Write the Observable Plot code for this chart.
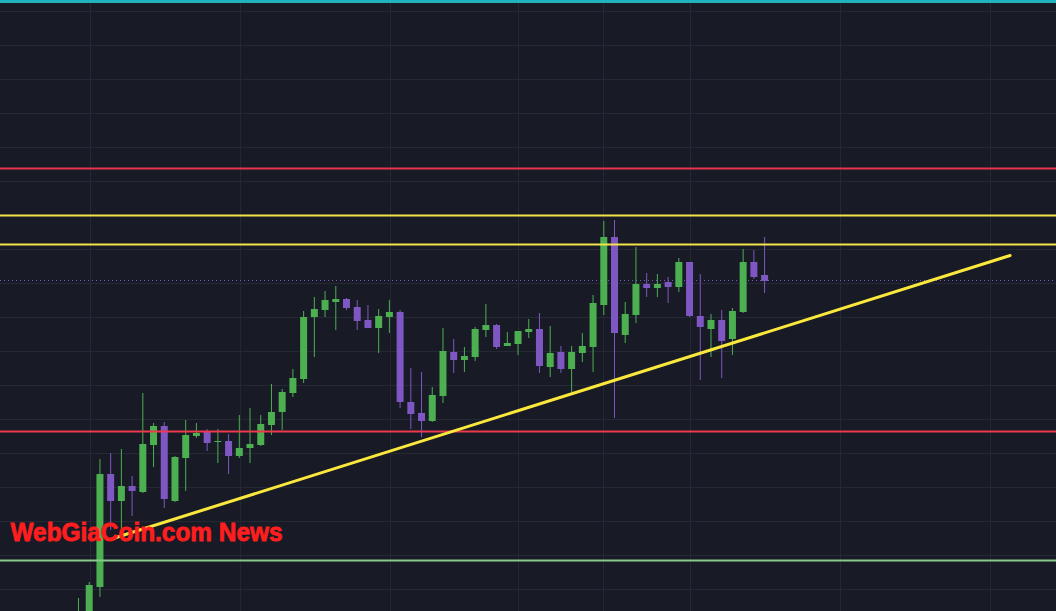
<!DOCTYPE html>
<html><head><meta charset="utf-8">
<script src="https://cdn.jsdelivr.net/npm/d3@7"></script>
<script src="https://cdn.jsdelivr.net/npm/@observablehq/plot@0.6"></script>
<style>
html,body{margin:0;padding:0;background:#181b26;overflow:hidden}
#chart{width:1056px;height:611px;overflow:hidden;position:relative}
</style>
</head><body><div id="chart"></div>
<script>
// Candle data (one entry per bar, left to right)
const opens  = [-19, -4, 24,137,110,125,119,166,185,110,153,175,179,169,170,155,163,166,186,199,218,232,294,301,309,312,304,291,283,294,299,209,198,190,215,259,251,254,281,286,265,267,279,282,244,259,242,258,264,306,374,276,296,327,323,329,324,349,295,282,291,272,299,349,336];
const closes = [ -1, 26,137,110,125,120,167,185,112,154,176,178,168,170,155,163,167,187,199,219,233,294,302,311,312,303,290,283,295,299,209,197,190,216,260,251,255,282,286,264,268,280,282,245,258,242,259,265,308,374,278,297,327,323,327,324,349,295,284,291,270,300,349,334,330];
const highs  = [ 13, 29,152,158,162,135,218,188,189,155,191,188,182,182,177,196,203,196,227,222,242,300,314,320,325,313,311,306,302,311,301,243,239,224,283,272,264,284,307,287,279,280,292,298,285,265,265,278,316,390,391,309,364,338,337,334,353,349,337,297,301,303,362,361,374];
const lows   = [-29, -9, 14, 81, 79, 95,118,144,103,109,120,173,160,148,137,153,148,165,176,181,214,228,254,294,281,301,281,283,258,278,203,182,174,189,208,238,239,250,274,262,265,256,273,238,234,238,219,249,239,296,193,268,288,314,314,308,319,294,231,254,233,256,298,332,318];

// Horizontal levels drawn on the chart
const levelPrices = [610, 443, 396, 367, 180, 51];
const levelColors = ["#1fb3bd", "#e8344f", "#f2e44a", "#f2e44a", "#ec3a4c", "#86c98a"];
const levelWidths = [3, 2, 2, 2, 2, 2];
const lastPrice = 331;

// Rising trendline (bar index, price)
const trendX = [3.2, 86.9];
const trendY = [73, 356];

// Grid ticks
const timeGrid = [1.12, 15.11, 29.10, 41.04, 48.97, 57.09, 71.08, 85.07];
const priceGrid = [22, 56, 90, 124, 158, 192, 226, 260, 294, 328, 362, 396, 430, 464, 498, 532, 566, 600];

const watermark = "WebGiaCoin.com News";

const bars = opens.map((o, i) => ({i, open: o, close: closes[i], high: highs[i], low: lows[i], up: closes[i] >= o}));
const levels = levelPrices.map((p, k) => ({p, color: levelColors[k], w: levelWidths[k]}));
const trend = trendX.map((x, k) => ({x, y: trendY[k]}));

const green = "#4caf50", purple = "#7e57c2";

const chart = Plot.plot({
  width: 1056, height: 611,
  margin: 0,
  style: {background: "#181b26", overflow: "hidden"},
  x: {domain: [-7.276, 91.23], axis: null},
  y: {domain: [0, 611], axis: null},
  marks: [
    Plot.ruleY(priceGrid, {stroke: "#252935", strokeWidth: 1}),
    Plot.ruleX(timeGrid, {stroke: "#252935", strokeWidth: 1}),
    Plot.ruleY([lastPrice], {stroke: purple, strokeWidth: 1, strokeDasharray: "1,3"}),
    Plot.ruleX(bars, {x: "i", y1: "low", y2: "high", stroke: d => d.up ? green : purple, strokeWidth: 1, clip: true}),
    Plot.ruleX(bars, {x: "i", y1: "open", y2: "close", stroke: d => d.up ? green : purple, strokeWidth: 7, clip: true}),
    Plot.ruleY(levels, {y: "p", stroke: "color", strokeWidth: "w"}),
    Plot.line(trend, {x: "x", y: "y", stroke: "#fbe83c", strokeWidth: 3, clip: true}),
    Plot.text([watermark], {frameAnchor: "bottom-left", textAnchor: "start", lineAnchor: "middle", dx: 10, dy: -79,
      fill: "#ff1e1e", stroke: "#ff1e1e", strokeWidth: 0.8, fontSize: 25, fontWeight: "bold",
      fontFamily: "Liberation Sans Narrow, Liberation Sans, sans-serif"})
  ]
});
document.getElementById("chart").appendChild(chart);
d3.select(chart).selectAll("text").filter(function(){return this.textContent === watermark;})
  .attr("textLength", 272).attr("lengthAdjust", "spacingAndGlyphs");
</script>
</body></html>
